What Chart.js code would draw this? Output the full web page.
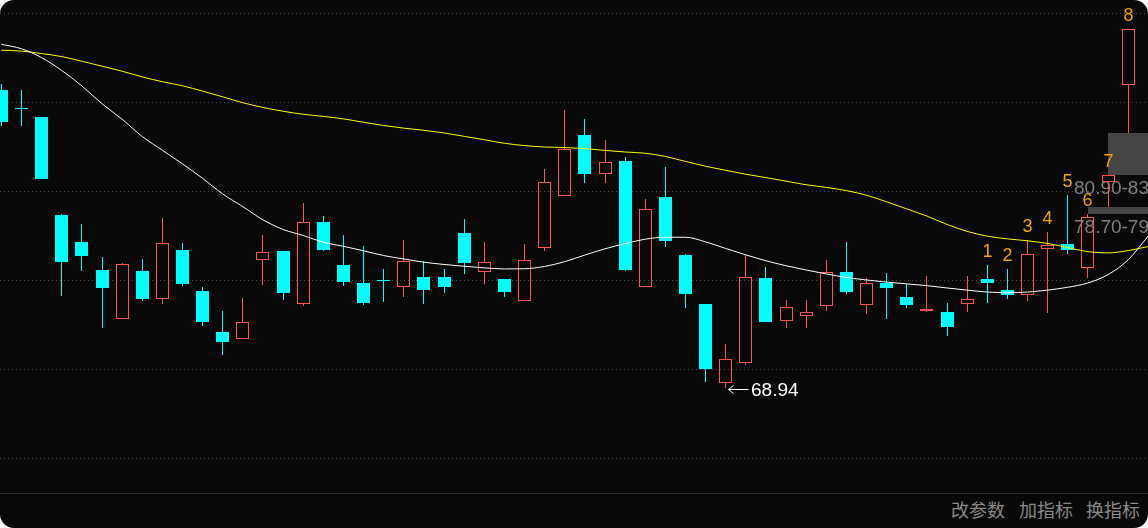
<!DOCTYPE html>
<html lang="zh-CN">
<head>
<meta charset="utf-8">
<title>K线</title>
<script src="https://cdn.jsdelivr.net/npm/chart.js@4.4.1/dist/chart.umd.min.js"></script>
<style>
  html, body { margin: 0; padding: 0; background: #fff; }
  #box { position: relative; width: 1148px; height: 528px; background: #080808; border-radius: 14px; overflow: hidden; }
  #kline { position: absolute; left: 0; top: 0; }
  #bar { position: absolute; left: 0; top: 493px; width: 1148px; height: 35px; border-top: 1px solid #2c2c2c; box-sizing: border-box; }
  #bar span { position: absolute; top: 6px; font: 18px/18px "Noto Sans CJK SC", sans-serif; color: #8a8a8a; white-space: nowrap; }
</style>
</head>
<body>
<div id="box">
  <canvas id="kline" width="1148" height="493"></canvas>
  <div id="bar">
    <span style="left:951px">改参数</span>
    <span style="left:1019px">加指标</span>
    <span style="left:1086px">换指标</span>
  </div>
</div>
<script>
// K线数据 (开/高/低/收)
var ohlcOpen = [85.67, 84.62, 84.16, 78.65, 77.14, 75.56, 72.79, 75.51, 73.92, 76.69,
  74.38, 72.08, 71.70, 76.11, 76.63, 73.63, 78.26, 75.84, 74.83, 74.94,
  74.59, 75.17, 75.17, 77.64, 75.43, 75.06, 73.80, 76.78, 79.69, 83.15,
  80.94, 81.69, 74.59, 79.66, 76.40, 73.65, 69.23, 70.35, 75.11, 72.68,
  72.96, 73.56, 75.45, 73.58, 74.83, 74.06, 73.27, 73.20, 73.63, 75.06,
  74.44, 74.17, 76.73, 77.02, 75.66, 80.49, 85.94];
var ohlcHigh = [86.01, 85.67, 84.16, 78.71, 78.15, 76.29, 75.95, 76.18, 78.48, 77.08,
  74.62, 73.26, 73.99, 77.53, 76.63, 79.33, 78.60, 77.53, 76.91, 75.62,
  77.25, 76.07, 75.62, 78.43, 77.14, 75.06, 77.02, 81.24, 84.55, 84.05,
  82.87, 81.89, 79.55, 81.35, 76.46, 73.65, 71.41, 76.42, 75.73, 73.88,
  73.88, 76.12, 77.14, 75.11, 75.40, 74.79, 75.23, 73.71, 75.23, 75.84,
  75.62, 77.27, 77.70, 79.78, 78.70, 80.90, 89.09];
var ohlcLow = [83.65, 83.65, 80.68, 74.12, 75.51, 72.32, 72.79, 73.84, 73.67, 74.68,
  72.43, 70.80, 71.70, 74.74, 73.89, 73.55, 76.65, 74.68, 73.61, 73.78,
  74.06, 73.67, 74.29, 75.35, 74.79, 74.06, 73.80, 76.65, 79.69, 80.47,
  80.47, 75.51, 74.59, 76.87, 73.43, 69.29, 68.94, 70.24, 72.66, 72.29,
  72.32, 73.28, 74.21, 73.11, 72.83, 73.44, 73.22, 71.87, 73.22, 73.72,
  73.95, 73.84, 73.16, 76.48, 75.13, 79.09, 83.26];
var ohlcClose = [83.89, 84.60, 80.68, 76.03, 76.35, 74.57, 75.90, 73.93, 77.06, 74.79,
  72.64, 71.53, 72.62, 76.56, 74.29, 78.24, 76.70, 74.90, 73.72, 74.92,
  76.05, 74.46, 74.62, 75.97, 75.99, 74.34, 76.11, 80.49, 82.34, 80.97,
  81.61, 75.58, 78.97, 77.21, 74.23, 70.02, 70.55, 75.15, 72.66, 73.47,
  73.19, 75.43, 74.33, 74.81, 74.57, 73.61, 73.38, 72.38, 73.92, 74.85,
  74.17, 76.44, 76.95, 76.70, 78.52, 80.88, 89.09];

// 均线 (白 / 黄)
var maWhite = [88.24, 87.99, 87.49, 86.77, 85.90, 84.90, 84.03, 83.06, 82.29, 81.52,
  80.71, 79.83, 79.12, 78.38, 77.84, 77.50, 77.12, 76.89, 76.64, 76.37,
  76.18, 76.00, 75.87, 75.77, 75.68, 75.62, 75.63, 75.76, 76.03, 76.40,
  76.75, 77.04, 77.29, 77.40, 77.40, 77.14, 76.77, 76.41, 76.08, 75.80,
  75.56, 75.34, 75.14, 75.00, 74.88, 74.78, 74.68, 74.55, 74.43, 74.32,
  74.29, 74.32, 74.43, 74.59, 74.83, 75.30, 76.13, 77.47];
var maYellow = [87.91, 87.86, 87.72, 87.55, 87.29, 87.01, 86.73, 86.41, 86.14, 85.91,
  85.61, 85.29, 84.96, 84.69, 84.48, 84.31, 84.19, 84.05, 83.86, 83.68,
  83.53, 83.41, 83.26, 83.07, 82.88, 82.68, 82.55, 82.47, 82.44, 82.38,
  82.28, 82.19, 82.12, 81.94, 81.66, 81.39, 81.16, 80.94, 80.75, 80.55,
  80.35, 80.20, 80.02, 79.76, 79.39, 78.99, 78.59, 78.12, 77.73, 77.46,
  77.31, 77.20, 77.05, 76.82, 76.59, 76.52, 76.65, 76.88];

// 网格价位
var gridLevels = [64.95, 69.95, 74.95, 79.95, 84.95, 89.95];

// 信号序号 1..8, 从第49根开始
var signalNums = ['1', '2', '3', '4', '5', '6', '7', '8'];
var signalFrom = 49;

// 跳空缺口
var gapFrom = [54, 55];
var gapLow  = [78.70, 80.90];
var gapHigh = [79.09, 83.26];

var UP = '#ff5454', DOWN = '#00ffff';
var FONT = '"Liberation Sans", Arial, sans-serif';

var idx = ohlcOpen.map(function (_, i) { return i; });
var isUp = ohlcOpen.map(function (o, i) { return ohlcClose[i] >= o; });
var candleColor = isUp.map(function (u) { return u ? UP : DOWN; });
var bodyTop = idx.map(function (i) { return Math.max(ohlcOpen[i], ohlcClose[i]); });
var bodyBot = idx.map(function (i) { return Math.min(ohlcOpen[i], ohlcClose[i]); });

function toXY(arr) {
  return arr.map(function (v, i) { return { x: i, y: v }; });
}

// 把柱子对齐到整像素, 线条更清晰
var snapBars = {
  id: 'snapBars',
  afterDatasetsUpdate: function (chart) {
    chart.data.datasets.forEach(function (ds, di) {
      var meta = chart.getDatasetMeta(di);
      if (meta.type !== 'bar') return;
      meta.data.forEach(function (el) {
        el.x = Math.floor(el.x) + 0.5;
        el.y = Math.round(el.y);
        el.base = Math.round(el.base);
      });
    });
  }
};

var marks = {
  id: 'marks',
  beforeDatasetsDraw: function (chart) {
    var ctx = chart.ctx, xs = chart.scales.x, ys = chart.scales.y, area = chart.chartArea;
    ctx.save();
    gapFrom.forEach(function (from, k) {
      var left = Math.round(xs.getPixelForValue(from));
      var top = Math.round(ys.getPixelForValue(gapHigh[k]));
      var bottom = Math.round(ys.getPixelForValue(gapLow[k]));
      ctx.fillStyle = '#454545';
      ctx.fillRect(left, top, area.right - left, bottom - top);
      ctx.fillStyle = '#808080';
      ctx.font = '19px ' + FONT;
      ctx.textAlign = 'left';
      ctx.textBaseline = 'alphabetic';
      ctx.fillText(gapLow[k].toFixed(2) + '-' + gapHigh[k].toFixed(2), area.right - 74, bottom + 19);
    });
    ctx.restore();
  },
  afterDatasetsDraw: function (chart) {
    var ctx = chart.ctx, xs = chart.scales.x, ys = chart.scales.y;
    ctx.save();
    ctx.textBaseline = 'alphabetic';
    ctx.font = '18px ' + FONT;
    ctx.fillStyle = '#f2a20c';
    ctx.textAlign = 'center';
    signalNums.forEach(function (t, k) {
      var i = signalFrom + k;
      ctx.fillText(t, Math.floor(xs.getPixelForValue(i)) + 0.5, Math.round(ys.getPixelForValue(ohlcHigh[i])) - 8.5);
    });

    // 最低价标注
    var lo = 0;
    ohlcLow.forEach(function (v, i) { if (v < ohlcLow[lo]) lo = i; });
    var x = Math.floor(xs.getPixelForValue(lo)) + 0.5;
    var y = Math.round(ys.getPixelForValue(ohlcLow[lo])) + 1.5;
    ctx.strokeStyle = '#ffffff';
    ctx.lineWidth = 1;
    ctx.beginPath();
    ctx.moveTo(x + 3, y); ctx.lineTo(x + 23, y);
    ctx.moveTo(x + 8, y - 4); ctx.lineTo(x + 3, y); ctx.lineTo(x + 8, y + 4);
    ctx.stroke();
    ctx.textAlign = 'left';
    ctx.fillStyle = '#ffffff';
    ctx.font = '19px ' + FONT;
    ctx.fillText(ohlcLow[lo].toFixed(2), x + 25.5, y + 6);
    ctx.restore();
  }
};

var wickOpts = {
  backgroundColor: candleColor, borderWidth: 0,
  grouped: false, barThickness: 1, maxBarThickness: 1, inflateAmount: 0
};

new Chart(document.getElementById('kline'), {
  type: 'bar',
  data: {
    datasets: [
      {
        type: 'line', label: 'MA1', data: toXY(maWhite), order: 0,
        borderColor: '#ffffff', borderWidth: 1, pointRadius: 0, cubicInterpolationMode: 'monotone'
      },
      {
        type: 'line', label: 'MA2', data: toXY(maYellow), order: 0,
        borderColor: '#ffff00', borderWidth: 1, pointRadius: 0, cubicInterpolationMode: 'monotone'
      },
      {
        label: 'body', order: 1,
        data: idx.map(function (i) { return { x: i, y: [ohlcOpen[i], ohlcClose[i]] }; }),
        backgroundColor: isUp.map(function (u) { return u ? 'rgba(0,0,0,0)' : DOWN; }),
        borderColor: candleColor, borderWidth: 1, borderSkipped: false,
        grouped: false, barThickness: 13, maxBarThickness: 13, minBarLength: 1, inflateAmount: 0
      },
      Object.assign({
        label: 'upper', order: 2,
        data: idx.map(function (i) { return { x: i, y: [bodyTop[i], ohlcHigh[i]] }; })
      }, wickOpts),
      Object.assign({
        label: 'lower', order: 2,
        data: idx.map(function (i) { return { x: i, y: [ohlcLow[i], bodyBot[i]] }; })
      }, wickOpts)
    ]
  },
  options: {
    responsive: false,
    devicePixelRatio: 1,
    animation: false,
    events: [],
    layout: { padding: 0 },
    plugins: { legend: { display: false }, tooltip: { enabled: false } },
    scales: {
      x: { type: 'linear', min: -0.0696, max: 56.988, offset: false, display: false },
      y: {
        min: 63.03, max: 90.73,
        afterBuildTicks: function (s) { s.ticks = gridLevels.map(function (v) { return { value: v }; }); },
        ticks: { display: false },
        grid: { color: '#4c4c4c', lineWidth: 1, drawTicks: false },
        border: { display: false, dash: [1, 3] }
      }
    }
  },
  plugins: [snapBars, marks]
});
</script>
</body>
</html>
